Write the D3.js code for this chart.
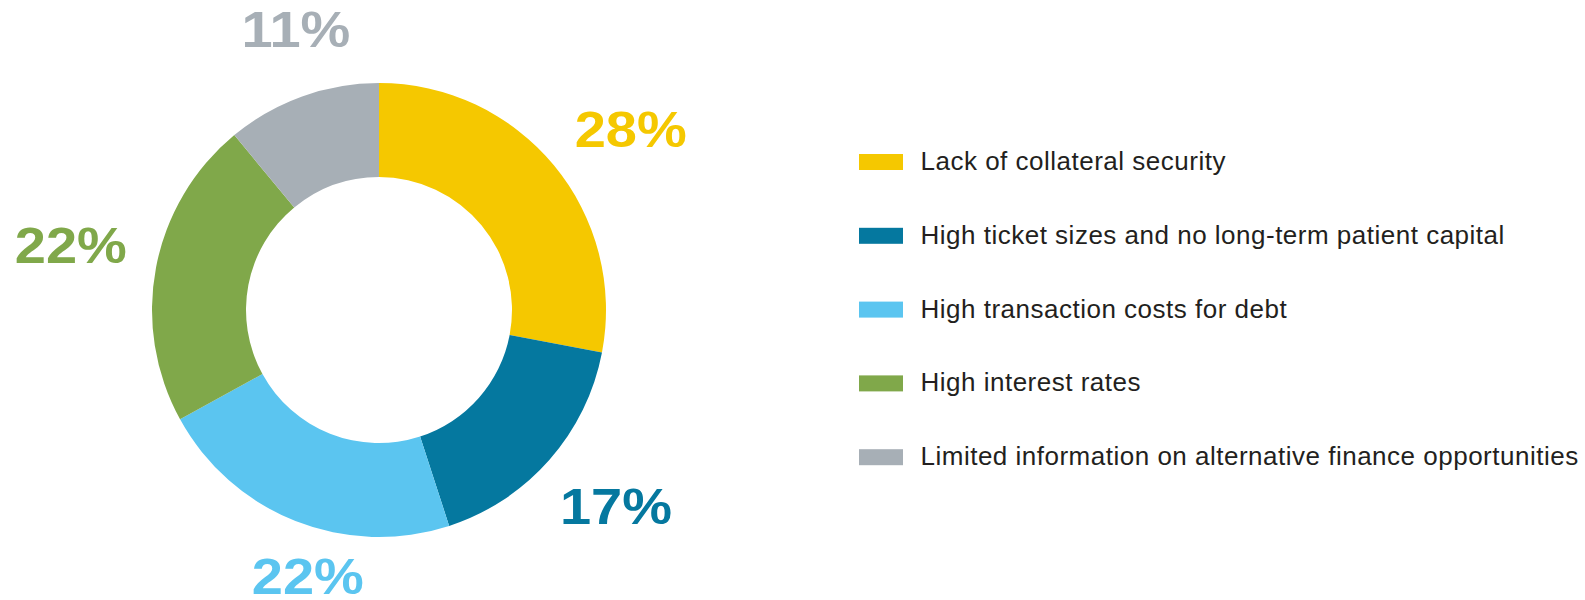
<!DOCTYPE html>
<html>
<head>
<meta charset="utf-8">
<script src="https://cdn.jsdelivr.net/npm/d3@7"></script>
<style>
  html, body { margin: 0; padding: 0; background: #ffffff; }
  svg { display: block; }
</style>
</head>
<body>
<svg id="chart" width="1585" height="600"></svg>
<script>
// Barriers to finance: share of respondents
const categories = [
  "Lack of collateral security",
  "High ticket sizes and no long-term patient capital",
  "High transaction costs for debt",
  "High interest rates",
  "Limited information on alternative finance opportunities"
];
const values = [28, 17, 22, 22, 11];
const colors = ["#F5C800", "#05789F", "#5BC5F0", "#80A84A", "#A7AFB6"];

// Label placement tweaks (degrees along the ring, pixels outward)
const labelAngleNudge = [3.9, -1.8, -6.6, 1.1, 3.3];
const labelRadiusNudge = [0, -2.5, -35, 5, -17.3];

const width = 1585, height = 600;
const cx = 379, cy = 310;
const outerR = 227, innerR = 133, labelR = 310;

const svg = d3.select("#chart");
const data = categories.map((c, i) => ({ name: c, value: values[i], color: colors[i], i }));

const pie = d3.pie().sort(null).value(d => d.value);
const arc = d3.arc().innerRadius(innerR).outerRadius(outerR);
const arcs = pie(data);

const g = svg.append("g").attr("transform", `translate(${cx},${cy})`);

g.selectAll("path.slice")
  .data(arcs)
  .join("path")
  .attr("class", "slice")
  .attr("d", arc)
  .attr("fill", d => d.data.color);

// Percentage labels around the ring (wide bold figures)
const pctStretch = 1.12;
g.selectAll("text.pct")
  .data(arcs)
  .join("text")
  .attr("class", "pct")
  .attr("transform", d => {
    const a = (d.startAngle + d.endAngle) / 2 + labelAngleNudge[d.index] * Math.PI / 180;
    const r = labelR + labelRadiusNudge[d.index];
    return `translate(${r * Math.sin(a)},${-r * Math.cos(a)}) scale(${pctStretch},1)`;
  })
  .attr("text-anchor", "middle")
  .attr("dy", "0.36em")
  .attr("font-family", "'Liberation Sans', Arial, Helvetica, sans-serif")
  .attr("font-weight", "bold")
  .attr("font-size", 50)
  .attr("fill", d => d.data.color)
  .text(d => d.data.value + "%");

// Legend
const legendX = 859, legendY = 162, rowGap = 73.8;
const legend = svg.append("g").attr("transform", `translate(${legendX},${legendY})`);
const y = d3.scalePoint().domain(d3.range(categories.length)).range([0, rowGap * (categories.length - 1)]);

const rows = legend.selectAll("g.row")
  .data(data)
  .join("g")
  .attr("class", "row")
  .attr("transform", d => `translate(0,${y(d.i)})`);

rows.append("rect")
  .attr("x", 0)
  .attr("y", -8)
  .attr("width", 44)
  .attr("height", 16)
  .attr("fill", d => d.color);

rows.append("text")
  .attr("x", 61.5)
  .attr("y", 8)
  .attr("font-family", "'Liberation Sans', Arial, Helvetica, sans-serif")
  .attr("font-size", 26)
  .attr("letter-spacing", 0.5)
  .attr("fill", "#231F20")
  .text(d => d.name);
</script>
</body>
</html>
